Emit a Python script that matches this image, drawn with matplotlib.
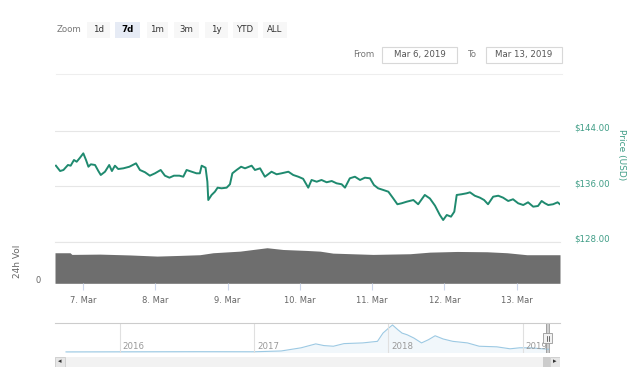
import matplotlib
matplotlib.use("Agg")
import matplotlib.pyplot as plt
import matplotlib.transforms as mtransforms
from matplotlib.patches import Rectangle
import numpy as np
import pandas as pd

#%% Datos
t0 = pd.Timestamp("2019-03-06")

# precio, horas desde el 6 de marzo 00:00
price_hours = [15.0, 16.4, 17.5, 19.0, 19.9, 21.0, 21.9, 23.0, 24.1, 25.0,
               25.8, 26.6, 28.0, 29.1, 29.9, 31.3, 32.7, 33.6, 34.6, 35.7,
               37.4, 39.4, 41.6, 42.9, 44.6, 46.2, 47.9, 49.8, 51.2, 52.7,
               54.2, 56.0, 57.3, 58.4, 60.1, 61.7, 62.8, 63.4, 64.7, 65.3,
               65.6, 66.7, 67.8, 68.7, 70.0, 71.7, 72.8, 73.6, 75.0, 76.5,
               77.8, 80.0, 81.1, 82.8, 84.4, 86.6, 88.3, 89.9, 92.2, 93.8,
               95.5, 97.1, 98.8, 99.9, 101.6, 103.2, 104.9, 106.6, 108.2, 109.9,
               111.0, 112.6, 114.3, 116.0, 117.6, 119.3, 120.6, 122.0, 123.7, 125.4,
               127.0, 128.4, 129.8, 131.5, 133.7, 135.3, 137.5, 139.2, 140.9, 142.5,
               143.6, 144.8, 146.2, 147.3, 148.1, 149.7, 151.4, 152.5, 154.1, 155.8,
               157.2, 158.5, 160.2, 161.9, 163.5, 165.2, 166.8, 168.5, 170.2, 171.8,
               173.5, 175.1, 176.3, 177.4, 178.5, 180.1, 181.6, 182.4]
price_usd = [138.93, 138.16, 138.31, 139.03, 138.93, 139.75, 139.50, 140.08, 140.71, 139.75,
             138.78, 139.13, 139.03, 138.16, 137.59, 138.06, 139.03, 138.16, 138.93, 138.45,
             138.55, 138.78, 139.27, 138.31, 137.98, 137.49, 137.83, 138.31, 137.49, 137.20,
             137.49, 137.49, 137.34, 138.31, 138.06, 137.83, 137.83, 138.93, 138.64, 136.62,
             133.98, 134.71, 135.18, 135.76, 135.67, 135.76, 136.25, 137.83, 138.31, 138.78,
             138.55, 138.93, 138.31, 138.55, 137.34, 138.06, 137.69, 137.83, 138.06, 137.59,
             137.34, 137.04, 135.76, 136.87, 136.62, 136.87, 136.54, 136.72, 136.39, 136.25,
             135.76, 137.11, 137.34, 136.87, 137.20, 137.11, 136.15, 135.67, 135.43, 135.18,
             134.23, 133.37, 133.51, 133.74, 133.98, 133.37, 134.71, 134.20, 133.16, 131.82,
             131.10, 131.82, 131.58, 132.30, 134.71, 134.81, 134.95, 135.09, 134.60, 134.32,
             133.98, 133.37, 134.46, 134.60, 134.32, 133.84, 134.09, 133.51, 133.26, 133.65,
             133.02, 133.12, 133.84, 133.51, 133.26, 133.37, 133.65, 133.37]

# volumen 24h (miles de millones, escala aproximada)
vol_hours = [14.7, 19.7, 20.3, 29.6, 39.6, 48.6, 56.2, 62.8, 67.2, 76.1, 85.1, 90.4,
             98.4, 102.7, 107.0, 120.3, 132.6, 139.2, 148.2, 158.1, 164.8, 171.4, 182.4]
vol_bn = [4.02, 4.02, 3.80, 3.84, 3.73, 3.58, 3.67, 3.76, 4.02, 4.23, 4.68, 4.45,
          4.32, 4.23, 3.97, 3.80, 3.89, 4.10, 4.19, 4.15, 4.02, 3.76, 3.76]

# navegador (historia completa)
nav_dates = ["2015-08-07", "2016-08-01", "2017-01-01", "2017-03-15", "2017-05-08",
             "2017-06-17", "2017-07-09", "2017-08-04", "2017-09-02", "2017-10-23",
             "2017-12-02", "2017-12-17", "2018-01-01", "2018-01-12", "2018-01-27",
             "2018-02-07", "2018-02-21", "2018-03-11", "2018-04-01", "2018-04-20",
             "2018-05-08", "2018-05-30", "2018-06-25", "2018-08-04", "2018-09-05",
             "2018-10-23", "2018-11-28", "2018-12-24", "2019-01-23", "2019-03-13"]
nav_usd = [1, 12, 8, 50, 214, 418, 331, 296, 433, 469,
           551, 979, 1234, 1402, 1147, 979, 892, 724, 469, 637,
           841, 673, 551, 469, 296, 265, 163, 214, 214, 136]

zoom_buttons = ["1d", "7d", "1m", "3m", "1y", "YTD", "ALL"]
selected_button = "7d"
from_label = "Mar 6, 2019"
to_label = "Mar 13, 2019"
price_ticks = [128, 136, 144]
date_ticks = pd.date_range("2019-03-07", "2019-03-13", freq="D")
year_ticks = pd.to_datetime(["2016-01-01", "2017-01-01", "2018-01-01", "2019-01-01"])

#%% Figura
W, H = 640, 380
fig = plt.figure(figsize=(6.4, 3.8), dpi=100)
plt.rcParams['font.family'] = ['DejaVu Sans']

def box(x0, y0, x1, y1):
    # pixeles (arriba-izquierda) -> fraccion de figura
    return [x0 / W, 1 - y1 / H, (x1 - x0) / W, (y1 - y0) / H]

green = '#1f8a6f'
label_green = '#3f9d86'
grid_c = '#e6e6e6'
txt_c = '#666666'

px = t0 + pd.to_timedelta(price_hours, unit='h')
vx = t0 + pd.to_timedelta(vol_hours, unit='h')
xmin = t0 + pd.Timedelta(hours=14.7)
xmax = t0 + pd.Timedelta(hours=182.4)

# --- precio ---
ax = fig.add_axes(box(55, 100, 560, 241.5))
ax.plot(px, price_usd, color=green, linewidth=1.4)
ax.set_xlim(xmin, xmax)
ax.set_ylim(128, 148.4)
ax.set_yticks(price_ticks)
ax.set_yticklabels([f"${v:.2f}" for v in price_ticks])
ax.yaxis.tick_right()
ax.tick_params(axis='y', length=0, pad=10, labelsize=6.2, labelcolor=label_green)
for lbl in ax.get_yticklabels():
    lbl.set_transform(lbl.get_transform() + mtransforms.ScaledTranslation(0, 0.035, fig.dpi_scale_trans))
ax.set_xticks([])
ax.grid(axis='y', color=grid_c, linewidth=0.8)
for s in ax.spines.values():
    s.set_visible(False)

fig.text(621 / W, 1 - 155 / H, "Price (USD)", rotation=270, ha='center', va='center',
         fontsize=6.5, color=label_green)

# --- volumen ---
axv = fig.add_axes(box(55, 241.5, 560, 283.3))
axv.fill_between(vx, vol_bn, 0, color='#6e6e6e', linewidth=0)
axv.set_xlim(xmin, xmax)
axv.set_ylim(0, 5.5)
axv.set_yticks([0])
axv.set_yticklabels(["0"])
axv.tick_params(axis='y', length=0, pad=10, labelsize=6, labelcolor=txt_c)
for lbl in axv.get_yticklabels():
    lbl.set_transform(lbl.get_transform() + mtransforms.ScaledTranslation(0, 0.04, fig.dpi_scale_trans))
axv.set_xticks(date_ticks)
axv.set_xticklabels([f"{d.day}. Mar" for d in date_ticks])
axv.tick_params(axis='x', length=5, color='#ccd6eb', labelsize=6, labelcolor=txt_c, pad=4)
for s in ['left', 'right', 'bottom']:
    axv.spines[s].set_visible(False)
axv.spines['top'].set_color(grid_c)
axv.spines['top'].set_linewidth(0.8)
fig.text(17 / W, 1 - 261 / H, "24h Vol", rotation=90, ha='center', va='center',
         fontsize=6.5, color=txt_c)

# --- navegador ---
nx = pd.to_datetime(nav_dates)
axn = fig.add_axes(box(55, 323, 560, 352.5))
axn.plot(nx, nav_usd, color='#9cc9e3', linewidth=0.8)
axn.fill_between(nx, nav_usd, -30, color='#e8f2f9', alpha=0.6, linewidth=0)
axn.set_xlim(pd.Timestamp("2015-07-08"), pd.Timestamp("2019-04-13"))
axn.set_ylim(-30, 1505)
axn.set_xticks([])
axn.set_yticks([])
for d in year_ticks:
    axn.axvline(d, color='#e0e0e0', linewidth=0.8)
    axn.annotate(str(d.year), (d, 0), xytext=(2, 1), textcoords='offset points',
                 fontsize=6.2, color='#999999', ha='left', va='bottom')
for s in ['left', 'right', 'bottom']:
    axn.spines[s].set_visible(False)
axn.spines['top'].set_color('#cccccc')
axn.spines['top'].set_linewidth(0.8)
# rango seleccionado
axn.axvspan(t0, pd.Timestamp("2019-03-13"), color='#b0b0b0', alpha=0.6, linewidth=0)
for d in [t0, pd.Timestamp("2019-03-13")]:
    axn.axvline(d, color='#999999', linewidth=0.6)

# --- barra de desplazamiento ---
axs = fig.add_axes(box(55, 356.5, 560, 366.5))
axs.set_xlim(0, 505)
axs.set_ylim(0, 1)
axs.axis('off')
axs.add_patch(Rectangle((0, 0), 505, 1, color='#f2f2f2'))
axs.add_patch(Rectangle((0, 0), 10, 1, facecolor='#e6e6e6', edgecolor='#cccccc', linewidth=0.6))
axs.add_patch(Rectangle((495, 0), 10, 1, facecolor='#e6e6e6', edgecolor='#cccccc', linewidth=0.6))
axs.add_patch(Rectangle((488, 0), 7, 1, facecolor='#cccccc', linewidth=0))
axs.text(5, 0.5, "◂", ha='center', va='center', fontsize=5, color='#333333')
axs.text(500, 0.5, "▸", ha='center', va='center', fontsize=5, color='#333333')

# manija del navegador
fig.patches.append(Rectangle((543 / W, 1 - 343 / H), 9 / W, 10 / H, transform=fig.transFigure,
                             facecolor='#f2f2f2', edgecolor='#999999', linewidth=0.6))
for xo in [546.5, 548.5]:
    fig.lines.append(plt.Line2D([xo / W, xo / W], [1 - 340.5 / H, 1 - 335.5 / H],
                                transform=fig.transFigure, color='#333333', linewidth=0.5))

#%% Botones de zoom y fechas
fig.text(69 / W, 1 - 29.5 / H, "Zoom", ha='center', va='center', fontsize=6.2, color='#777777')
btn_x = [98.5, 127.5, 157, 186, 216, 245.5, 275]
btn_w = [23, 25, 21, 25, 23, 25, 24]
for lab, cx, bw in zip(zoom_buttons, btn_x, btn_w):
    sel = lab == selected_button
    fig.patches.append(Rectangle(((cx - bw / 2) / W, 1 - 38 / H), bw / W, 16 / H,
                                 transform=fig.transFigure, linewidth=0,
                                 facecolor='#e6ebf5' if sel else '#f7f7f7'))
    fig.text(cx / W, 1 - 29.5 / H, lab, ha='center', va='center', fontsize=6.2,
             color='#000000' if sel else '#333333', fontweight='bold' if sel else 'normal')

fig.text(363.5 / W, 1 - 54.5 / H, "From", ha='center', va='center', fontsize=6.2, color='#777777')
fig.text(472.5 / W, 1 - 54.5 / H, "To", ha='center', va='center', fontsize=6.2, color='#777777')
for (x0, x1), lab in zip([(382, 457), (486, 562)], [from_label, to_label]):
    fig.patches.append(Rectangle((x0 / W, 1 - 63 / H), (x1 - x0) / W, 16 / H,
                                 transform=fig.transFigure, facecolor='white',
                                 edgecolor='#d8d8d8', linewidth=0.8))
    fig.text((x0 + x1) / 2 / W, 1 - 54.5 / H, lab, ha='center', va='center',
             fontsize=6.2, color='#555555')

fig.lines.append(plt.Line2D([56 / W, 562 / W], [1 - 74 / H, 1 - 74 / H],
                            transform=fig.transFigure, color='#eeeeee', linewidth=0.8))

fig.savefig("out.png", dpi=100, facecolor='white')
